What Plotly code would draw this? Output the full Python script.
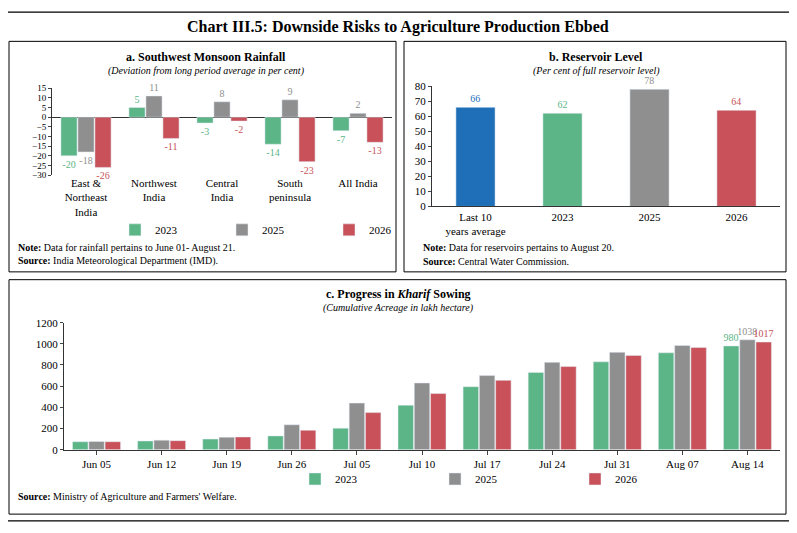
import plotly.graph_objects as go

W, H = 797, 533
FW, FH = 781, 517
OFF = 8
def px(x): return (x - OFF) / FW
def py(y): return 1 - (y - OFF) / FH

GREEN, GREY, RED, BLUE = "#5cb587", "#8f8f8f", "#c9525a", "#1f6fb8"
FONT = "Liberation Serif"

# Panel a
regions = ["East &<br>Northeast<br>India", "Northwest<br>India", "Central<br>India", "South<br>peninsula", "All India"]
rain_2023 = [-20, 5, -3, -14, -7]
rain_2025 = [-18, 11, 8, 9, 2]
rain_2026 = [-26, -11, -2, -23, -13]

# Panel b
res_cats = ["Last 10<br>years average", "2023", "2025", "2026"]
res_vals = [66, 62, 78, 64]

# Panel c
weeks = ["Jun 05", "Jun 12", "Jun 19", "Jun 26", "Jul 05", "Jul 10", "Jul 17", "Jul 24", "Jul 31", "Aug 07", "Aug 14"]
sow_2023 = [75, 82, 100, 130, 203, 420, 595, 730, 830, 915, 980]
sow_2025 = [78, 90, 118, 235, 440, 630, 700, 825, 920, 985, 1038]
sow_2026 = [75, 85, 120, 183, 350, 530, 655, 785, 890, 965, 1017]

fig = go.Figure()
for name, vals, col in [("2023", rain_2023, GREEN), ("2025", rain_2025, GREY), ("2026", rain_2026, RED)]:
    fig.add_trace(go.Bar(x=regions, y=vals, name=name, marker_color=col, text=[str(v) for v in vals],
                         textposition="outside", textfont=dict(color=col, size=10), cliponaxis=False,
                         xaxis="x", yaxis="y", legend="legend"))

fig.add_trace(go.Bar(x=res_cats, y=res_vals, marker_color=[BLUE, GREEN, GREY, RED], width=0.45,
                     text=[str(v) for v in res_vals], textposition="outside",
                     textfont=dict(color=[BLUE, GREEN, GREY, RED], size=11), cliponaxis=False,
                     showlegend=False, xaxis="x2", yaxis="y2"))

for name, vals, col in [("2023", sow_2023, GREEN), ("2025", sow_2025, GREY), ("2026", sow_2026, RED)]:
    txt = [""] * (len(vals) - 1) + [str(vals[-1])]
    fig.add_trace(go.Bar(x=weeks, y=vals, name=name, marker_color=col, text=txt,
                         textposition="outside", textfont=dict(color=col, size=11), cliponaxis=False,
                         xaxis="x3", yaxis="y3", legend="legend2"))

axfont = dict(family=FONT, size=11, color="black")
smallfont = dict(family=FONT, size=9, color="black")
fig.update_layout(
    width=FW, height=FH, margin=dict(l=0, r=0, t=0, b=0), paper_bgcolor="white", plot_bgcolor="white",
    font=dict(family=FONT, size=11, color="black"), barmode="group", bargap=0.25, bargroupgap=0.05,
    uniformtext=dict(minsize=9, mode="show"),
    xaxis=dict(domain=[px(52), px(392)], anchor="y", tickfont=axfont, showline=False, ticks=""),
    yaxis=dict(domain=[py(173), py(84)], anchor="x", range=[-30, 15], dtick=5, tickfont=smallfont,
               showgrid=False, zeroline=True, zerolinecolor="#333", zerolinewidth=1,
               showline=True, linecolor="#333", ticks="outside", ticklen=3),
    xaxis2=dict(domain=[px(432), px(780)], anchor="y2", tickfont=axfont, showline=True, linecolor="#333"),
    yaxis2=dict(domain=[py(205), py(82)], anchor="x2", range=[0, 80], dtick=10, tickfont=axfont,
                showgrid=False, showline=True, linecolor="#333", ticks="outside", ticklen=3),
    xaxis3=dict(domain=[px(64), px(780)], anchor="y3", tickfont=axfont, showline=True, linecolor="#333",
                ticks="outside", ticklen=4),
    yaxis3=dict(domain=[py(454), py(324)], anchor="x3", range=[0, 1200], dtick=200, tickfont=axfont,
                showgrid=False, showline=True, linecolor="#333", ticks="outside", ticklen=3),
    legend=dict(orientation="h", x=px(115), y=py(229), xanchor="left", yanchor="middle",
                font=dict(family=FONT, size=11), entrywidth=62, itemwidth=30, bgcolor="rgba(0,0,0,0)"),
    legend2=dict(orientation="h", x=px(295), y=py(484), xanchor="left", yanchor="middle",
                 font=dict(family=FONT, size=11), entrywidth=95, itemwidth=30, bgcolor="rgba(0,0,0,0)"),
)

shapes = [
    dict(type="rect", xref="paper", yref="paper", x0=px(3), x1=px(792), y0=py(527), y1=py(6), line=dict(color="black", width=1.2)),
    dict(type="rect", xref="paper", yref="paper", x0=px(9), x1=px(396), y0=py(272), y1=py(36), line=dict(color="black", width=1)),
    dict(type="rect", xref="paper", yref="paper", x0=px(404), x1=px(786), y0=py(272), y1=py(36), line=dict(color="black", width=1)),
    dict(type="rect", xref="paper", yref="paper", x0=px(9), x1=px(786), y0=py(520), y1=py(280), line=dict(color="black", width=1)),
]
fig.update_layout(shapes=shapes)

def ann(x, y, text, size=11, xanchor="center"):
    fig.add_annotation(xref="paper", yref="paper", x=px(x), y=py(y), text=text, showarrow=False,
                       xanchor=xanchor, yanchor="middle", font=dict(family=FONT, size=size, color="black"))

ann(398, 21, "<b>Chart III.5: Downside Risks to Agriculture Production Ebbed</b>", 16)
ann(206, 52, "<b>a. Southwest Monsoon Rainfall</b>", 12)
ann(206, 66, "<i>(Deviation from long period average in per cent)</i>", 10)
ann(16, 247, "<b>Note:</b> Data for rainfall pertains to June 01- August 21.", 10, "left")
ann(16, 261, "<b>Source:</b> India Meteorological Department (IMD).", 10, "left")
ann(596, 52, "<b>b. Reservoir Level</b>", 12)
ann(596, 66, "<i>(Per cent of full reservoir level)</i>", 10)
ann(421, 247, "<b>Note:</b> Data for reservoirs pertains to August 20.", 10, "left")
ann(421, 261, "<b>Source:</b> Central Water Commission.", 10, "left")
ann(398, 295, "<b>c. Progress in <i>Kharif</i> Sowing</b>", 12)
ann(398, 309, "<i>(Cumulative Acreage in lakh hectare)</i>", 10)
ann(16, 502, "<b>Source:</b> Ministry of Agriculture and Farmers' Welfare.", 10, "left")

fig.write_html("out.html")
